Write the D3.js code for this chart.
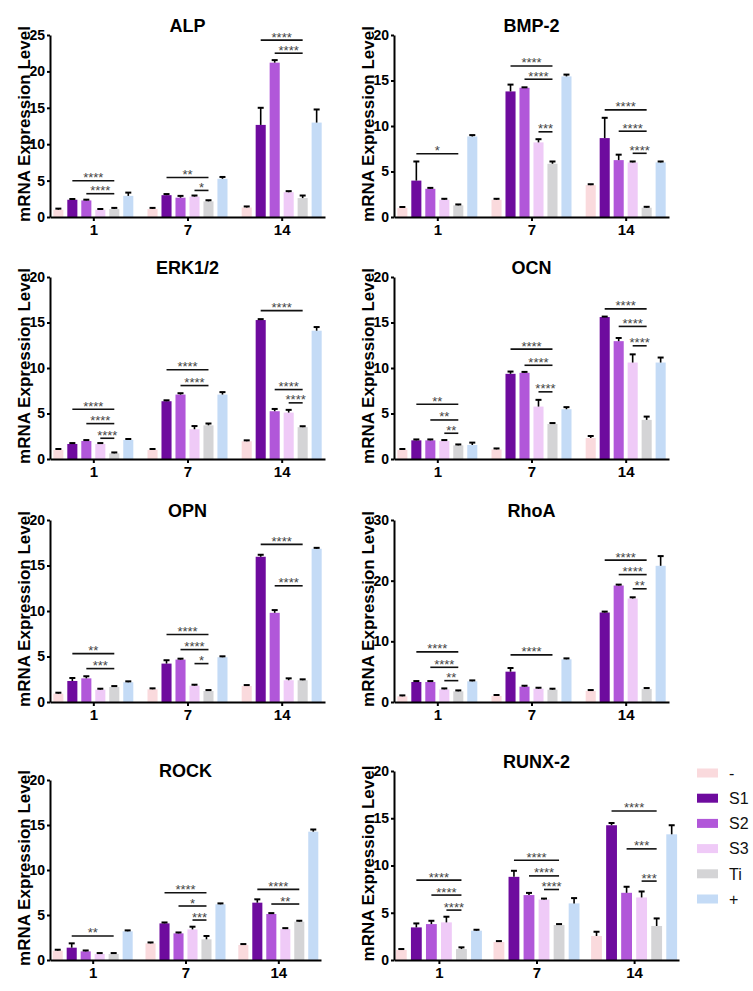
<!DOCTYPE html>
<html>
<head>
<meta charset="utf-8">
<script src="https://cdn.jsdelivr.net/npm/d3@7"></script>
<style>
  html, body { margin: 0; padding: 0; background: #fff; }
  svg { display: block; }
  text { font-family: "Liberation Sans", Arial, sans-serif; }
</style>
</head>
<body>
<svg id="chart" width="753" height="991"></svg>
<script>
// ---------------- DATA ----------------
const groups = ["1", "7", "14"];
const series = ["-", "S1", "S2", "S3", "Ti", "+"];
const seriesColors = ["#fadadd", "#6e0b9e", "#b157d9", "#efcaf7", "#d4d4d6", "#c4dbf6"];
const genes = ["ALP", "BMP-2", "ERK1/2", "OCN", "OPN", "RhoA", "ROCK", "RUNX-2"];
const yMax = [25, 20, 20, 20, 20, 30, 20, 20];
const yStep = [5, 5, 5, 5, 5, 10, 5, 5];
const yLabel = "mRNA Expression Level";

// means: [group][series]
const ALP_mean = [[1.0, 2.37, 2.28, 1.0, 1.1, 2.9], [1.1, 3.0, 2.65, 2.8, 2.15, 5.25], [1.3, 12.65, 21.2, 3.4, 2.6, 12.97]];
const ALP_err  = [[0.15, 0.1, 0.1, 0.1, 0.15, 0.45], [0.15, 0.15, 0.25, 0.15, 0.15, 0.25], [0.15, 2.35, 0.35, 0.15, 0.35, 1.8]];
const ALP_sig  = [[0, 1, 4, 4.98, "****"], [0, 2, 4, 3.2, "****"], [1, 1, 4, 5.43, "**"], [1, 3, 4, 3.65, "*"], [2, 1, 4, 24.3, "****"], [2, 2, 4, 22.5, "****"]];

const BMP2_mean = [[1.0, 4.0, 3.1, 1.9, 1.28, 8.85], [1.9, 13.8, 14.2, 8.2, 5.85, 15.45], [3.5, 8.67, 6.25, 6.0, 1.02, 6.0]];
const BMP2_err  = [[0.1, 2.1, 0.1, 0.1, 0.1, 0.15], [0.1, 0.75, 0.05, 0.35, 0.25, 0.2], [0.1, 2.23, 0.6, 0.1, 0.1, 0.1]];
const BMP2_sig  = [[0, 1, 4, 6.95, "*"], [1, 1, 4, 16.6, "****"], [1, 2, 4, 15.14, "****"], [1, 3, 4, 9.36, "***"], [2, 1, 4, 11.77, "****"], [2, 2, 4, 9.43, "****"], [2, 3, 4, 7.0, "****"]];

const ERK_mean = [[1.0, 1.65, 1.98, 1.65, 0.62, 2.1], [1.0, 6.35, 7.08, 3.27, 3.7, 7.08], [1.95, 15.27, 5.25, 5.1, 3.5, 14.1]];
const ERK_err  = [[0.1, 0.1, 0.1, 0.1, 0.1, 0.1], [0.1, 0.1, 0.15, 0.35, 0.2, 0.27], [0.1, 0.1, 0.25, 0.3, 0.1, 0.4]];
const ERK_sig  = [[0, 1, 4, 5.47, "****"], [0, 2, 4, 3.89, "****"], [0, 3, 4, 2.28, "****"], [1, 1, 4, 9.8, "****"], [1, 2, 4, 8.07, "****"], [2, 1, 4, 16.3, "****"], [2, 2, 4, 7.63, "****"], [2, 3, 4, 6.17, "****"]];

const OCN_mean = [[1.0, 2.05, 2.05, 1.98, 1.5, 1.54], [1.06, 9.36, 9.47, 5.76, 3.85, 5.47], [2.31, 15.6, 12.95, 10.6, 4.3, 10.6]];
const OCN_err  = [[0.1, 0.1, 0.1, 0.1, 0.1, 0.26], [0.1, 0.25, 0.1, 0.74, 0.1, 0.23], [0.22, 0.05, 0.35, 0.9, 0.36, 0.55]];
const OCN_sig  = [[0, 1, 4, 6.02, "**"], [0, 2, 4, 4.29, "**"], [0, 3, 4, 2.83, "**"], [1, 1, 4, 12.07, "****"], [1, 2, 4, 10.3, "****"], [1, 3, 4, 7.38, "****"], [2, 1, 4, 16.5, "****"], [2, 2, 4, 14.57, "****"], [2, 3, 4, 12.44, "****"]];

const OPN_mean = [[0.92, 2.31, 2.6, 1.36, 1.65, 2.17], [1.4, 4.22, 4.66, 1.8, 1.21, 4.92], [1.76, 15.96, 9.8, 2.39, 2.39, 16.84]];
const OPN_err  = [[0.1, 0.33, 0.23, 0.1, 0.1, 0.1], [0.1, 0.37, 0.1, 0.1, 0.1, 0.1], [0.1, 0.22, 0.3, 0.21, 0.1, 0.1]];
const OPN_sig  = [[0, 1, 4, 5.32, "**"], [0, 2, 4, 3.67, "***"], [1, 1, 4, 7.41, "****"], [1, 2, 4, 5.76, "****"], [1, 3, 4, 4.22, "*"], [2, 1, 4, 17.32, "****"], [2, 2, 4, 12.77, "****"]];

const RhoA_mean = [[0.94, 3.3, 3.3, 2.09, 1.76, 3.41], [1.0, 5.0, 2.53, 2.2, 2.04, 7.04], [1.82, 14.75, 19.2, 17.06, 2.15, 22.45]];
const RhoA_err  = [[0.15, 0.15, 0.15, 0.15, 0.15, 0.15], [0.15, 0.6, 0.15, 0.15, 0.15, 0.15], [0.15, 0.15, 0.15, 0.2, 0.15, 1.6]];
const RhoA_sig  = [[0, 1, 4, 8.26, "****"], [0, 2, 4, 5.72, "****"], [0, 3, 4, 3.52, "**"], [1, 1, 4, 7.76, "****"], [2, 1, 4, 23.39, "****"], [2, 2, 4, 21.0, "****"], [2, 3, 4, 18.66, "**"]];

const ROCK_mean = [[1.04, 1.37, 0.96, 0.67, 0.67, 3.19], [1.85, 4.07, 2.96, 3.4, 2.3, 6.19], [1.67, 6.37, 5.11, 3.44, 4.26, 14.26]];
const ROCK_err  = [[0.1, 0.48, 0.1, 0.1, 0.1, 0.1], [0.1, 0.1, 0.1, 0.3, 0.37, 0.1], [0.1, 0.37, 0.1, 0.1, 0.1, 0.24]];
const ROCK_sig  = [[0, 1, 4, 2.67, "**"], [1, 1, 4, 7.48, "****"], [1, 2, 4, 6.0, "*"], [1, 3, 4, 4.44, "***"], [2, 1, 4, 7.85, "****"], [2, 2, 4, 6.22, "**"]];

const RUNX_mean = [[1.06, 3.45, 3.8, 3.98, 1.16, 3.1], [1.9, 8.8, 6.87, 6.4, 3.7, 5.99], [2.54, 14.26, 7.11, 6.62, 3.6, 13.3]];
const RUNX_err  = [[0.1, 0.42, 0.35, 0.6, 0.18, 0.1], [0.1, 0.64, 0.23, 0.1, 0.1, 0.56], [0.45, 0.24, 0.64, 0.63, 0.8, 0.96]];
const RUNX_sig  = [[0, 1, 4, 8.45, "****"], [0, 2, 4, 6.87, "****"], [0, 3, 4, 5.28, "****"], [1, 1, 4, 10.56, "****"], [1, 2, 4, 8.9, "****"], [1, 3, 4, 7.46, "****"], [2, 1, 4, 15.77, "****"], [2, 2, 4, 11.76, "***"], [2, 3, 4, 8.35, "***"]];

const means = [ALP_mean, BMP2_mean, ERK_mean, OCN_mean, OPN_mean, RhoA_mean, ROCK_mean, RUNX_mean];
const errs  = [ALP_err, BMP2_err, ERK_err, OCN_err, OPN_err, RhoA_err, ROCK_err, RUNX_err];
const sigs  = [ALP_sig, BMP2_sig, ERK_sig, OCN_sig, OPN_sig, RhoA_sig, ROCK_sig, RUNX_sig];

// ---------------- LAYOUT ----------------
const panelLeft   = [50, 394, 50, 394, 50, 394, 50, 394];
const panelRight  = [325, 669, 325, 669, 325, 669, 321, 679];
const panelTop    = [35, 35, 277, 277, 520, 520, 780, 771];
const panelBottom = [217, 217, 459, 459, 702, 702, 960, 960];
const clusterW    = [80, 80, 80, 80, 80, 80, 80, 86];

const svg = d3.select("#chart");

genes.forEach((gene, gi) => {
  const x0 = panelLeft[gi], x1 = panelRight[gi];
  const yTop = panelTop[gi], yBot = panelBottom[gi];
  const g = svg.append("g");

  const xOuter = d3.scalePoint().domain(groups).range([x0, x1]).padding(0.46);
  const w = clusterW[gi];
  const xInner = d3.scaleBand().domain(series).range([-w / 2, w / 2]).paddingInner(0.28).paddingOuter(0);
  const y = d3.scaleLinear().domain([0, yMax[gi]]).range([yBot, yTop]);

  const rows = [];
  groups.forEach((grp, k) => {
    series.forEach((s, j) => {
      rows.push({ grp, s, j, v: means[gi][k][j], e: errs[gi][k][j] });
    });
  });
  const cx = d => xOuter(d.grp) + xInner(d.s) + xInner.bandwidth() / 2;

  // bars
  g.selectAll("rect.bar").data(rows).join("rect")
    .attr("class", "bar")
    .attr("x", d => xOuter(d.grp) + xInner(d.s))
    .attr("width", xInner.bandwidth())
    .attr("y", d => y(d.v))
    .attr("height", d => y(0) - y(d.v))
    .attr("fill", d => seriesColors[d.j]);

  // error bars (upper only)
  g.selectAll("line.err").data(rows).join("line")
    .attr("class", "err")
    .attr("x1", cx).attr("x2", cx)
    .attr("y1", d => y(d.v)).attr("y2", d => y(d.v + d.e))
    .attr("stroke", "#000").attr("stroke-width", 1.6);
  g.selectAll("line.cap").data(rows).join("line")
    .attr("class", "cap")
    .attr("x1", d => cx(d) - 3).attr("x2", d => cx(d) + 3)
    .attr("y1", d => y(d.v + d.e)).attr("y2", d => y(d.v + d.e))
    .attr("stroke", "#000").attr("stroke-width", 2);

  // significance brackets
  const sdat = sigs[gi].map(r => ({ grp: groups[r[0]], a: series[r[1]], b: series[r[2]], yv: r[3], lab: r[4] }));
  const sx = (grp, s) => xOuter(grp) + xInner(s) + xInner.bandwidth() / 2;
  g.selectAll("line.sig").data(sdat).join("line")
    .attr("class", "sig")
    .attr("x1", d => sx(d.grp, d.a)).attr("x2", d => sx(d.grp, d.b))
    .attr("y1", d => y(d.yv)).attr("y2", d => y(d.yv))
    .attr("stroke", "#111").attr("stroke-width", 1.6);
  g.selectAll("text.sig").data(sdat).join("text")
    .attr("class", "sig")
    .attr("x", d => (sx(d.grp, d.a) + sx(d.grp, d.b)) / 2)
    .attr("y", d => y(d.yv) + 1.5)
    .attr("text-anchor", "middle")
    .attr("font-size", 13)
    .attr("fill", "#444")
    .text(d => d.lab);

  // axes
  const yAxis = d3.axisLeft(y)
    .tickValues(d3.range(0, yMax[gi] + 0.001, yStep[gi]))
    .tickSize(3).tickSizeOuter(0).tickPadding(2);
  const ya = g.append("g").attr("transform", `translate(${x0},0)`).call(yAxis);
  ya.select(".domain").attr("stroke-width", 2).attr("stroke", "#000");
  ya.selectAll(".tick line").attr("stroke-width", 2).attr("stroke", "#000");
  ya.selectAll(".tick text").attr("font-size", 14).attr("font-weight", "bold").attr("fill", "#000")
    .attr("font-family", "'Liberation Sans', Arial, sans-serif");

  const xAxis = d3.axisBottom(xOuter).tickSize(4).tickSizeOuter(0).tickPadding(3);
  const xa = g.append("g").attr("transform", `translate(0,${yBot})`).call(xAxis);
  xa.select(".domain").attr("stroke-width", 2).attr("stroke", "#000");
  xa.selectAll(".tick line").attr("stroke-width", 2).attr("stroke", "#000");
  xa.selectAll(".tick text").attr("font-size", 15).attr("font-weight", "bold").attr("fill", "#000")
    .attr("font-family", "'Liberation Sans', Arial, sans-serif");

  // title
  g.append("text")
    .attr("x", (x0 + x1) / 2).attr("y", yTop - 3.5)
    .attr("text-anchor", "middle")
    .attr("font-size", 18).attr("font-weight", "bold")
    .text(gene);

  // y label
  g.append("text")
    .attr("transform", `translate(${x0 - 20},${(yTop + yBot) / 2 - 2}) rotate(-90)`)
    .attr("text-anchor", "middle")
    .attr("font-size", 17).attr("font-weight", "bold")
    .text(yLabel);
});

// legend
const legendY = d3.scalePoint().domain(series).range([773, 899]);
const lg = svg.append("g");
lg.selectAll("rect").data(series).join("rect")
  .attr("x", 697).attr("width", 21)
  .attr("y", d => legendY(d) - 4.5).attr("height", 9)
  .attr("fill", (d, i) => seriesColors[i]);
lg.selectAll("text").data(series).join("text")
  .attr("x", 729).attr("y", d => legendY(d))
  .attr("dy", "0.36em")
  .attr("font-size", 16)
  .attr("fill", "#111")
  .text(d => d);
</script>
</body>
</html>
